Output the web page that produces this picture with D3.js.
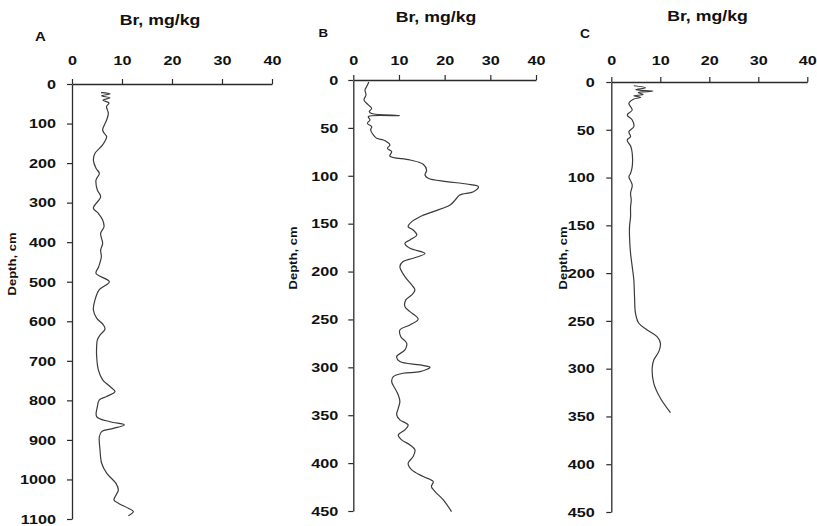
<!DOCTYPE html>
<html><head><meta charset="utf-8">
<script src="https://cdn.jsdelivr.net/npm/d3@7"></script>
<style>
html,body{margin:0;padding:0;background:#fff;}
svg{display:block;}
text{font-family:Arial,"Liberation Sans",sans-serif;font-weight:bold;fill:#111;}
</style></head>
<body>
<svg id="chart" width="817" height="526"></svg>
<script>
// ---------- DATA ----------
const xTicks = [0, 10, 20, 30, 40];
const yTicksA = [0,100,200,300,400,500,600,700,800,900,1000,1100];
const yTicksBC = [0,50,100,150,200,250,300,350,400,450];
const xTitle = "Br, mg/kg";
const yTitle = "Depth, cm";
const panelLabels = ["A", "B", "C"];

// Panel A: depth (cm) and Br (mg/kg)
const depthA = [22,25,30,35,41,48,57,74,91,116,125,133,154,175,192,213,226,243,268,285,314,327,344,361,378,403,420,437,462,479,500,521,546,571,592,609,620,635,647,664,689,723,748,765,778,790,799,816,841,854,862,871,879,892,925,959,984,1010,1027,1052,1060,1073,1081,1092];
const brA    = [5.8,7.6,5.9,7.6,6.2,7.4,6.9,7.27,6.93,6.13,6.47,6.93,6.13,4.6,4.27,4.8,5.47,4.8,5.07,5.73,4.27,5.27,6.13,6.4,5.73,6.13,5.73,5.87,5.33,4.8,7.47,5.4,4.6,4.27,4.93,6.27,6.6,5.6,5.07,4.93,4.93,5.27,6.13,7.6,8.6,6.93,5.47,5.07,4.93,7.6,10.47,8.27,5.93,5.47,5.6,5.93,6.93,8.8,9.27,8.4,9.27,11.27,12.27,11.27];

// Panel B
const depthB = [2,7,10.4,15.7,20.9,26,29.6,33,35,37.2,38.3,41.8,45.2,48.7,52.2,57.4,60.9,62.6,64.4,67.8,71.3,74.8,79.5,83.5,88,94,99.2,102.6,106.1,108.6,111.3,116.6,120,125.3,130.5,137.4,142.7,147.9,153.1,156.6,161.8,167,170.5,175.7,181,186.1,189.6,194.9,205.3,214,219.2,224.4,229.6,236.6,241.8,249.8,255.7,261,268,274.9,281.8,288.8,294,297.5,299.9,304.5,306.2,309.7,314.9,321.9,328.8,335.8,342.7,349.7,354.9,360.1,365.3,370.6,375.8,381,386.2,393.2,400.1,407.1,414,419.3,424.5,429.7,438.4,450.6];
const brB    = [3.4,2.9,2.56,2.78,2.34,3.29,4.02,3.5,4.0,10.1,3.3,3.65,3.07,4.02,3.8,4.38,5.11,6.57,7.3,8.03,7.45,8.4,8.0,12.4,15.3,16.05,15.7,16.4,20.4,24.8,27.4,26.3,23.3,22.3,21.2,17.5,14.6,12.8,12.0,13.1,13.9,12.4,11.3,12.4,15.7,13.1,10.9,10.2,11.3,12.8,13.5,12.8,11.5,11.3,12.4,14.2,12.4,10.2,10.4,11.7,11.3,9.5,10.2,14.6,16.8,14.6,10.9,8.76,8.4,9.1,9.85,10.2,9.85,9.5,10.2,12.0,11.3,9.85,10.6,12.4,13.5,13.1,12.0,12.8,15.3,17.5,17.1,17.9,19.7,21.5];

// Panel C
const depthC = [3.9,6,8,9.5,11,13,14.5,16,18,22.3,29.3,34.5,39.8,46.7,52,57.2,60.7,67.7,74.6,88.6,95.6,99.1,107.8,116.5,123.5,130.5,140.9,151.4,161.9,179.3,193.2,207.2,224.6,242.1,252.5,259.5,266.5,273.5,282.2,290.9,299.6,315.3,331,346];
const brC    = [4.6,7.0,5.0,8.5,5.5,6.5,4.6,6.0,4.5,3.59,4.27,3.25,4.27,4.6,3.59,3.93,3.25,4.0,4.27,4.27,3.93,3.59,4.27,3.93,4.07,3.93,3.93,3.72,3.72,3.93,4.27,4.6,4.74,4.94,5.62,7.32,9.35,10.03,9.69,8.67,8.34,8.67,10.03,12.07];

// ---------- LAYOUT ----------
const layout = [
  {depth: depthA, br: brA, yTicks: yTicksA, yMax: 1100,
   x0: 72, x1: 272, y0: 84, y1: 519, xPad: 14, yPad: 11,
   title: [160, 25], letter: [35, 40.5, 13], ylab: [16, 264]},
  {depth: depthB, br: brB, yTicks: yTicksBC, yMax: 450,
   x0: 353.3, x1: 536, y0: 80, y1: 511, xPad: 10, yPad: 10,
   title: [436, 22], letter: [318.5, 36.7, 11.5], ylab: [297, 258]},
  {depth: depthC, br: brC, yTicks: yTicksBC, yMax: 450,
   x0: 611.3, x1: 807.3, y0: 82, y1: 512, xPad: 12, yPad: 11.5,
   title: [707.5, 20.5], letter: [580, 37.7, 12], ylab: [567, 258]}
];

const svg = d3.select("#chart");
const STRETCH = 1.2;
const fmt = d3.format("d");

function stretch(sel, f) {
  sel.each(function() {
    const w = this.getComputedTextLength();
    d3.select(this).attr("textLength", w * (f || STRETCH)).attr("lengthAdjust", "spacingAndGlyphs");
  });
}

const panelsData = layout.map((p, i) => ({...p, label: panelLabels[i]}));

panelsData.forEach(p => {
  const x = d3.scaleLinear().domain([0, 40]).range([p.x0, p.x1]);
  const y = d3.scaleLinear().domain([0, p.yMax]).range([p.y0, p.y1]);
  const g = svg.append("g");

  // x axis (top)
  const gx = g.append("g").attr("transform", `translate(0,${p.y0})`)
    .call(d3.axisTop(x).tickValues(xTicks).tickFormat(fmt).tickSize(5).tickSizeOuter(0).tickPadding(p.xPad));
  // y axis (left)
  const gy = g.append("g").attr("transform", `translate(${p.x0},0)`)
    .call(d3.axisLeft(y).tickValues(p.yTicks).tickFormat(fmt).tickSize(5).tickSizeOuter(0).tickPadding(p.yPad));

  [gx, gy].forEach(a => {
    a.selectAll("path.domain").attr("stroke", "#2a2a2a").attr("stroke-width", 1.3);
    a.selectAll(".tick line").attr("stroke", "#2a2a2a").attr("stroke-width", 1.2);
    a.selectAll("text").attr("font-size", 13.5).attr("font-weight", "bold")
      .attr("font-family", 'Arial,"Liberation Sans",sans-serif').attr("fill", "#111");
  });
  gx.selectAll("text").attr("dy", "0");
  stretch(gx.selectAll("text"));
  stretch(gy.selectAll("text"));

  // title
  const t = g.append("text").attr("x", p.title[0]).attr("y", p.title[1])
    .attr("text-anchor", "middle").attr("font-size", 14.5).text(xTitle);
  stretch(t, 1.22);

  // panel letter
  const l = g.append("text").attr("x", p.letter[0]).attr("y", p.letter[1])
    .attr("font-size", p.letter[2]).text(p.label);
  stretch(l, 1.15);

  // y label
  g.append("text").attr("transform", `translate(${p.ylab[0]},${p.ylab[1]}) rotate(-90)`)
    .attr("text-anchor", "middle").attr("font-size", 10.5)
    .attr("textLength", 63).attr("lengthAdjust", "spacingAndGlyphs").text(yTitle);

  // curve
  const pts = p.depth.map((d, k) => [p.br[k], d]);
  const line = d3.line().x(d => x(d[0])).y(d => y(d[1])).curve(d3.curveCatmullRom.alpha(0.5));
  g.append("path").datum(pts).attr("d", line)
    .attr("fill", "none").attr("stroke", "#3a3a3a").attr("stroke-width", 1.2);
});
</script>
</body></html>
